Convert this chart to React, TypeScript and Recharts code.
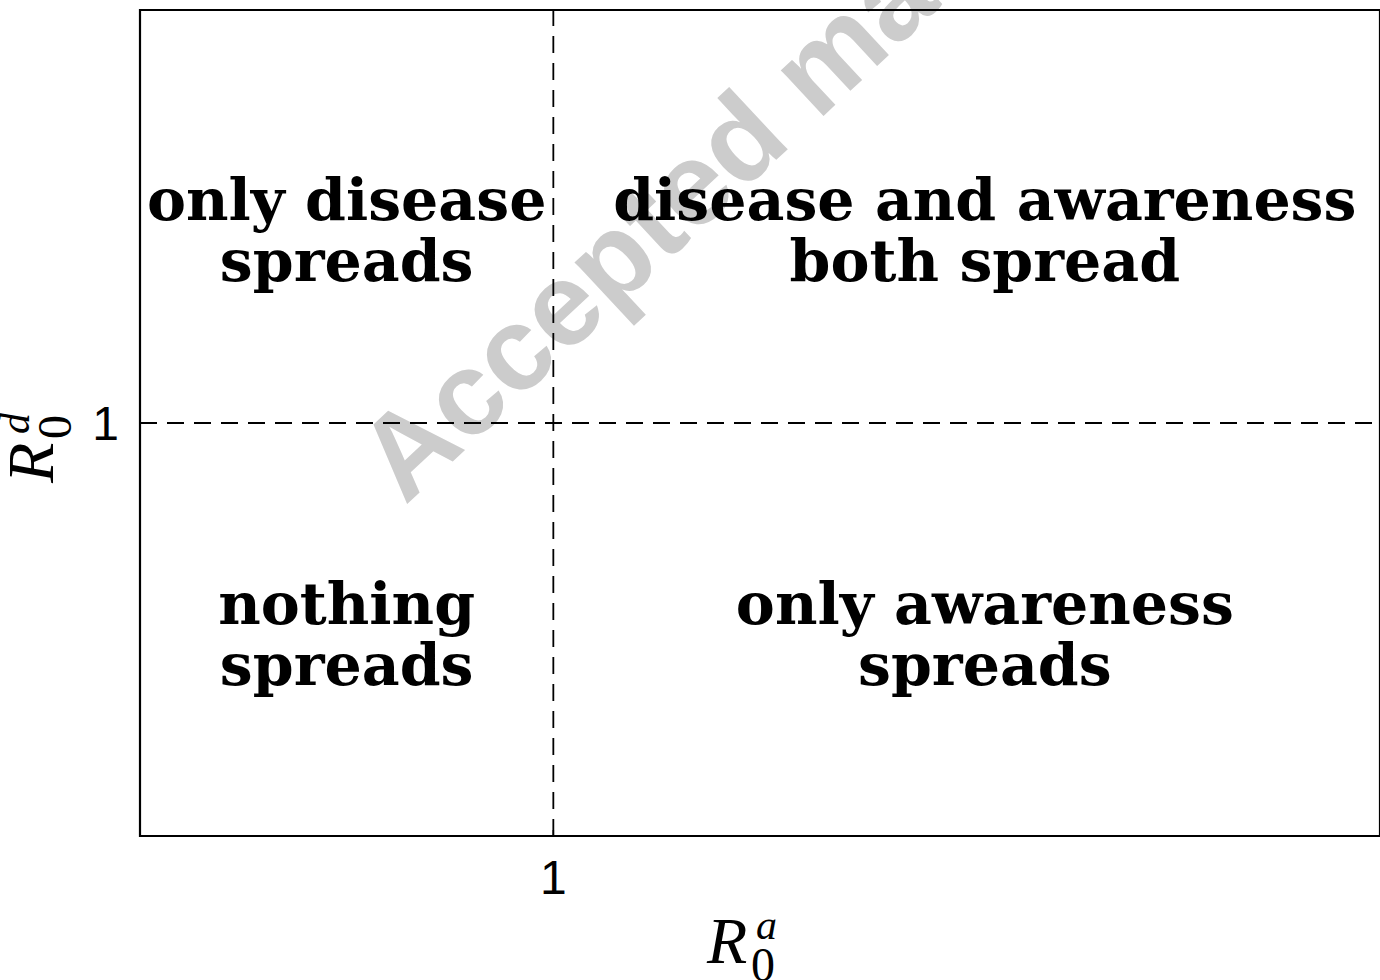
import React from "react";
import {
  ComposedChart,
  Scatter,
  XAxis,
  YAxis,
  ReferenceLine,
  ReferenceArea,
} from "recharts";

// threshold values and plot ranges of R0^a (x) and R0^d (y)
const xDomain = [0, 3];
const yDomain = [0, 2];
const thresholdX = 1;
const thresholdY = 1;
const xTicks = [1];
const yTicks = [1];

// region captions, anchored in data coordinates
const regionX = [0.5, 2.044, 0.5, 2.044];
const regionY = [1.42, 1.42, 0.44, 0.44];
const regionLines = [
  ["only disease", "spreads"],
  ["disease and awareness", "both spread"],
  ["nothing", "spreads"],
  ["only awareness", "spreads"],
];

const regions = regionX.map((x, i) => ({ x, y: regionY[i], lines: regionLines[i] }));

const SERIF = "DejaVu Serif, serif";
const MATH = "Liberation Serif, serif";
const SANS = "Liberation Sans";

const RegionText = (props: any) => {
  const { cx, cy, payload } = props;
  if (cx == null || cy == null) return null;
  const lines: string[] = payload.lines;
  return (
    <g>
      {lines.map((t, i) => (
        <text
          key={t + i}
          x={cx}
          y={cy - 30 + i * 61}
          textAnchor="middle"
          fontFamily={SERIF}
          fontWeight="bold"
          fontSize={58.5}
          fill="#000"
        >
          {t}
        </text>
      ))}
    </g>
  );
};

// R_0^sup label, drawn at an origin with a rotation
const MathLabel = ({ ox, oy, rot, sup }: { ox: number; oy: number; rot: number; sup: string }) => (
  <g transform={`translate(${ox},${oy}) rotate(${rot})`}>
    <text x={0} y={0} fontFamily={MATH} fontStyle="italic" fontSize={66} fill="#000">
      R
    </text>
    <text x={49} y={-24} fontFamily={MATH} fontStyle="italic" fontSize={42} fill="#000">
      {sup}
    </text>
    <text x={44} y={18} fontFamily={MATH} fontSize={48} fill="#000">
      0
    </text>
  </g>
);

const XLabel = (props: any) => {
  const vb = props.viewBox;
  return <MathLabel ox={vb.x + vb.width / 2 - 53} oy={vb.y + 127} rot={0} sup="a" />;
};

const YLabel = (props: any) => {
  const vb = props.viewBox;
  return <MathLabel ox={vb.x + 53} oy={vb.y + vb.height / 2 + 60} rot={-90} sup="d" />;
};

export default function App() {
  return (
    <div style={{ position: "absolute", left: 0, top: 0, width: 1380, height: 980, background: "#fff" }}>
      {/* watermark sits behind the chart */}
      <svg width={1380} height={980} style={{ position: "absolute", left: 0, top: 0 }}>
        <text
          x={405}
          y={506}
          transform="rotate(-43 405 506)"
          fontFamily={SANS}
          fontWeight="bold"
          fontSize={118}
          fill="#cccccc"
        >
          Accepted manuscript
        </text>
      </svg>
      <div style={{ position: "absolute", left: 0, top: 0 }}>
        <ComposedChart
          width={1380}
          height={980}
          data={regions}
          margin={{ top: 10, right: 0, left: 0, bottom: 0 }}
        >
          <XAxis
            type="number"
            dataKey="x"
            domain={xDomain}
            ticks={xTicks}
            height={144}
            stroke="#000"
            axisLine={{ stroke: "#000", strokeWidth: 2 }}
            tickLine={{ stroke: "#000", strokeWidth: 1.5 }}
            tickSize={-6}
            tickMargin={30}
            tick={{ fill: "#000", fontSize: 48, fontFamily: SANS }}
            label={<XLabel />}
          />
          <YAxis
            type="number"
            dataKey="y"
            domain={yDomain}
            ticks={yTicks}
            width={140}
            stroke="#000"
            axisLine={{ stroke: "#000", strokeWidth: 2 }}
            tickLine={{ stroke: "#000", strokeWidth: 1.5 }}
            tickSize={-6}
            tickMargin={27}
            tick={{ fill: "#000", fontSize: 48, fontFamily: SANS }}
            label={<YLabel />}
          />
          <ReferenceArea
            x1={xDomain[0]}
            x2={xDomain[1]}
            y1={yDomain[0]}
            y2={yDomain[1]}
            fill="none"
            fillOpacity={0}
            stroke="#000"
            strokeWidth={2.2}
          />
          <ReferenceLine x={thresholdX} stroke="#000" strokeWidth={1.8} strokeDasharray="17 10" />
          <ReferenceLine y={thresholdY} stroke="#000" strokeWidth={1.8} strokeDasharray="17 10" />
          <Scatter dataKey="y" shape={<RegionText />} isAnimationActive={false} />
        </ComposedChart>
      </div>
    </div>
  );
}
